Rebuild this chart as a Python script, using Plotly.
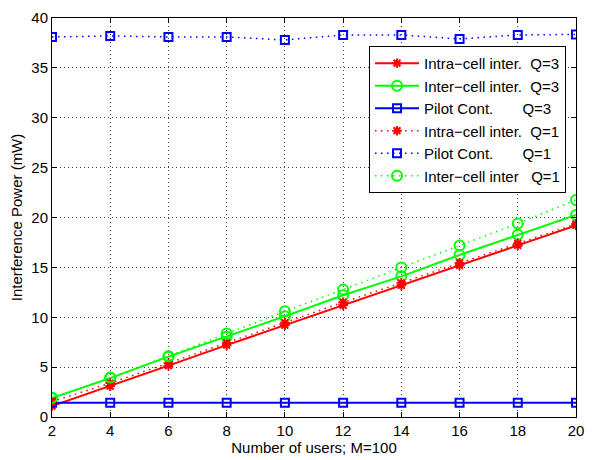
import plotly.graph_objects as go

users = [2, 4, 6, 8, 10, 12, 14, 16, 18, 20]
intra_q3 = [1.1, 3.1, 5.15, 7.2, 9.2, 11.2, 13.2, 15.2, 17.2, 19.2]
inter_q3 = [1.9, 3.9, 6.05, 8.04, 10.1, 12.2, 14.1, 16.24, 18.27, 20.26]
pilot_q3 = [1.44, 1.44, 1.44, 1.44, 1.44, 1.44, 1.44, 1.44, 1.44, 1.44]
intra_q1 = [1.54, 3.4, 5.4, 7.45, 9.45, 11.5, 13.45, 15.45, 17.4, 19.35]
pilot_q1 = [38.1, 38.2, 38.1, 38.1, 37.8, 38.3, 38.3, 37.9, 38.3, 38.35]
inter_q1 = [1.93, 3.95, 6.1, 8.37, 10.6, 12.77, 15.0, 17.2, 19.4, 21.76]

NB = "\u00a0"
names = [
    "Intra\u2212cell inter." + NB * 2 + "Q=3",
    "Inter\u2212cell inter." + NB * 2 + "Q=3",
    "Pilot Cont." + NB * 7 + "Q=3",
    "Intra\u2212cell inter." + NB * 2 + "Q=1",
    "Pilot Cont." + NB * 7 + "Q=1",
    "Inter\u2212cell inter" + NB * 3 + "Q=1",
]

DOT = "1.5px,4.5px"
series = [
    (intra_q3, "#ff0000", "solid", 2, "asterisk-open", 8),
    (inter_q3, "#00ff00", "solid", 2, "circle-open", 10),
    (pilot_q3, "#0000ff", "solid", 2, "square-open", 8),
    (intra_q1, "#ff0000", DOT, 1.5, "asterisk-open", 8),
    (pilot_q1, "#0000ff", DOT, 1.5, "square-open", 8),
    (inter_q1, "#00ff00", DOT, 1.5, "circle-open", 10),
]

fig = go.Figure()
for (vals, col, dash, lw, sym, size), name in zip(series, names):
    fig.add_trace(go.Scatter(
        x=users, y=vals, name=name, mode="lines+markers",
        line=dict(color=col, width=lw, dash=dash),
        marker=dict(symbol=sym, size=size, color=col,
                    line=dict(color=col, width=2)),
    ))

font = dict(family="Liberation Sans, Arial, Helvetica, sans-serif", size=15, color="#000")
axis_common = dict(
    showline=True, linecolor="#000", linewidth=1, mirror="ticks",
    ticks="inside", ticklen=5, tickcolor="#000", tickwidth=1,
    showgrid=True, gridcolor="#444", griddash="1px,3px", gridwidth=1,
    zeroline=False, tickfont=font,
)
fig.update_xaxes(range=[2, 20], dtick=2, tick0=2,
                 title=dict(text="Number of users; M=100", font=font, standoff=1),
                 **axis_common)
fig.update_yaxes(range=[0, 40], dtick=5,
                 title=dict(text="Interference Power (mW)", font=font, standoff=5),
                 **axis_common)

fig.update_layout(
    width=593, height=460,
    margin=dict(l=52, r=9, t=10, b=42),
    paper_bgcolor="white", plot_bgcolor="white",
    font=font,
    showlegend=True,
    legend=dict(x=0.605, y=0.93, xanchor="left", yanchor="top",
                bgcolor="white", bordercolor="#000", borderwidth=1,
                font=font, tracegroupgap=0, itemwidth=44),
)

fig.write_html("out.html")
